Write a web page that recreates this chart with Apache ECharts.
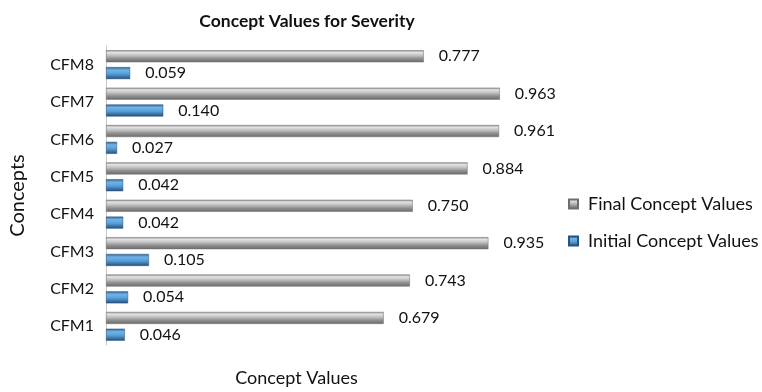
<!DOCTYPE html>
<html>
<head>
<meta charset="utf-8">
<script src="https://cdn.jsdelivr.net/npm/echarts@6/dist/echarts.min.js"></script>
<style>
  html, body { margin: 0; padding: 0; background: #fff; }
  #chart { width: 762px; height: 392px; }
</style>
</head>
<body>
<div id="chart"></div>
<script>
// Concept map nodes, listed bottom to top
const categories = ['CFM1', 'CFM2', 'CFM3', 'CFM4', 'CFM5', 'CFM6', 'CFM7', 'CFM8'];
const finalValues = [0.679, 0.743, 0.935, 0.750, 0.884, 0.961, 0.963, 0.777];
const initialValues = [0.046, 0.054, 0.105, 0.042, 0.042, 0.027, 0.140, 0.059];

const FONT = 'Lato, "Open Sans", sans-serif';

// Bevelled metallic fills for the two series
const grayFill = new echarts.graphic.LinearGradient(0, 0, 0, 1, [
  { offset: 0, color: '#8a8a8a' },
  { offset: 0.18, color: '#e4e4e4' },
  { offset: 0.45, color: '#bdbdbd' },
  { offset: 0.7, color: '#8e8e8e' },
  { offset: 1, color: '#6a6a6a' }
]);
const blueFill = new echarts.graphic.LinearGradient(0, 0, 0, 1, [
  { offset: 0, color: '#2f5f8e' },
  { offset: 0.25, color: '#6fb3e8' },
  { offset: 0.55, color: '#5aa0d8' },
  { offset: 0.8, color: '#3a74a8' },
  { offset: 1, color: '#24496f' }
]);

const valueLabel = {
  show: true,
  position: 'right',
  distance: 15,
  color: '#111',
  fontSize: 16,
  fontFamily: FONT,
  formatter: p => p.value.toFixed(3)
};

const chart = echarts.init(document.getElementById('chart'));
chart.setOption({
  animation: false,
  title: {
    text: 'Concept Values for Severity',
    left: 302,
    top: 7,
    textAlign: 'center',
    textStyle: { fontFamily: FONT, fontSize: 17.5, fontWeight: 'bold', color: '#111' }
  },
  legend: {
    orient: 'vertical',
    left: 563,
    top: 190,
    itemGap: 19,
    itemWidth: 9,
    itemHeight: 9,
    icon: 'rect',
    textStyle: { fontFamily: FONT, fontSize: 18, lineHeight: 18, color: '#111', padding: [0, 0, 0, 5] },
    data: ['Final Concept Values', 'Initial Concept Values']
  },
  grid: { left: 101, top: 46, width: 414, height: 315, containLabel: false },
  xAxis: {
    type: 'value',
    min: 0,
    max: 1,
    axisLine: { show: false },
    axisTick: { show: false },
    axisLabel: { show: false },
    splitLine: { show: false },
    name: 'Concept Values',
    nameLocation: 'middle',
    nameGap: 24,
    nameTextStyle: { fontFamily: FONT, fontSize: 18, color: '#111', padding: [0, 28, 0, 0] }
  },
  yAxis: {
    type: 'category',
    data: categories,
    axisLine: { show: true, lineStyle: { color: '#c8c8c8', width: 1 } },
    axisTick: { show: false },
    axisLabel: { fontFamily: FONT, fontSize: 16, color: '#111', margin: 12 },
    name: 'Concepts',
    nameLocation: 'middle',
    nameRotate: 90,
    nameGap: 78,
    nameTextStyle: { fontFamily: FONT, fontSize: 20, color: '#111' }
  },
  series: [
    {
      name: 'Final Concept Values',
      type: 'bar',
      data: finalValues,
      barWidth: 12,
      barGap: '40%',
      itemStyle: { color: grayFill, borderColor: '#6e6e6e', borderWidth: 0.5 },
      label: valueLabel
    },
    {
      name: 'Initial Concept Values',
      type: 'bar',
      data: initialValues,
      barWidth: 12,
      barGap: '40%',
      itemStyle: { color: blueFill, borderColor: '#2a537c', borderWidth: 0.5 },
      label: valueLabel
    }
  ]
});
</script>
</body>
</html>
